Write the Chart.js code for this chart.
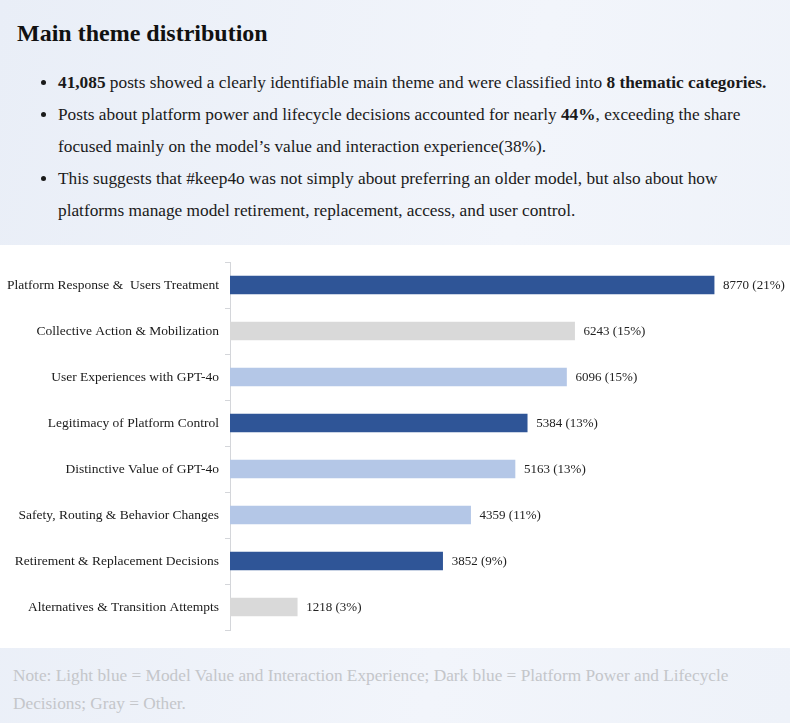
<!DOCTYPE html>
<html lang="en">
<head>
  <meta charset="UTF-8">
  <title>Main theme distribution</title>
  <script src="https://cdn.jsdelivr.net/npm/chart.js"></script>
  <style>
    html, body {
      margin: 0;
      padding: 0;
      width: 790px;
      height: 723px;
      overflow: hidden;
      font-family: 'Liberation Serif', 'Times New Roman', serif;
      background: linear-gradient(100deg, #e9eef7 0%, #f2f5fb 60%, #eef2f9 100%);
    }
    .header {
      height: 245px;
      box-sizing: border-box;
      padding-top: 18px;
    }
    h1 {
      margin: 0 0 0 17px;
      font-size: 24px;
      line-height: 30px;
      color: #111;
    }
    ul {
      margin: 19px 0 0 0;
      padding-left: 58px;
      padding-right: 8px;
      font-size: 17.3px;
      line-height: 32px;
      color: #1a1a1a;
    }
    .chart-box {
      position: relative;
      height: 403px;
      background: #ffffff;
    }
    .note {
      box-sizing: border-box;
      height: 75px;
      padding: 14px 13px 0 13px;
      font-size: 17.3px;
      line-height: 28px;
      color: #c4c6ca;
    }
  </style>
</head>
<body>

  <div class="header">
    <h1>Main theme distribution</h1>
    <ul>
      <li><b>41,085</b> posts showed a clearly identifiable main theme and were classified into <b>8 thematic categories.</b></li>
      <li>Posts about platform power and lifecycle decisions accounted for nearly <b>44%</b>, exceeding the share focused mainly on the model’s value and interaction experience(38%).</li>
      <li>This suggests that #keep4o was not simply about preferring an older model, but also about how platforms manage model retirement, replacement, access, and user control.</li>
    </ul>
  </div>

  <div class="chart-box">
    <canvas id="theme-chart" width="790" height="403"></canvas>
  </div>

  <div class="note">
    Note: Light blue = Model Value and Interaction Experience; Dark blue = Platform Power and Lifecycle Decisions; Gray = Other.
  </div>

  <script>
    const categories = [
      'Platform Response &  Users Treatment',
      'Collective Action & Mobilization',
      'User Experiences with GPT-4o',
      'Legitimacy of Platform Control',
      'Distinctive Value of GPT-4o',
      'Safety, Routing & Behavior Changes',
      'Retirement & Replacement Decisions',
      'Alternatives & Transition Attempts'
    ];
    const postCounts = [8770, 6243, 6096, 5384, 5163, 4359, 3852, 1218];
    const sharePct = [21, 15, 15, 13, 13, 11, 9, 3];
    const groups = ['dark', 'gray', 'light', 'dark', 'light', 'light', 'dark', 'gray'];

    const groupColors = {
      dark: '#2f5597',
      light: '#b4c7e7',
      gray: '#d9d9d9'
    };

    // writes "count (pct%)" just after each bar end
    const barLabels = {
      id: 'barLabels',
      afterDatasetsDraw(chart) {
        const ctx = chart.ctx;
        const meta = chart.getDatasetMeta(0);
        ctx.save();
        ctx.font = '13px "Liberation Serif", serif';
        ctx.fillStyle = '#222';
        ctx.textAlign = 'left';
        ctx.textBaseline = 'middle';
        meta.data.forEach((bar, i) => {
          ctx.fillText(`${postCounts[i]} (${sharePct[i]}%)`, bar.x + 9, bar.y + 1);
        });
        ctx.restore();
      }
    };

    new Chart(document.getElementById('theme-chart').getContext('2d'), {
      type: 'bar',
      data: {
        labels: categories,
        datasets: [{
          data: postCounts,
          backgroundColor: groups.map(g => groupColors[g]),
          barThickness: 18
        }]
      },
      options: {
        indexAxis: 'y',
        responsive: false,
        animation: false,
        layout: {
          padding: { top: 17, bottom: 18, right: 8, left: 0 }
        },
        scales: {
          x: {
            display: false,
            min: 0,
            max: 10000
          },
          y: {
            afterFit(scale) { scale.width = 230; },
            border: { display: true, color: '#d4d6da', width: 1 },
            grid: {
              drawOnChartArea: false,
              drawTicks: true,
              tickLength: 5,
              color: '#d4d6da',
              offset: true
            },
            ticks: {
              color: '#1a1a1a',
              padding: 6,
              font: { family: '"Liberation Serif", serif', size: 13.5 }
            }
          }
        },
        plugins: {
          legend: { display: false },
          tooltip: { enabled: false }
        }
      },
      plugins: [barLabels]
    });
  </script>

</body>
</html>
